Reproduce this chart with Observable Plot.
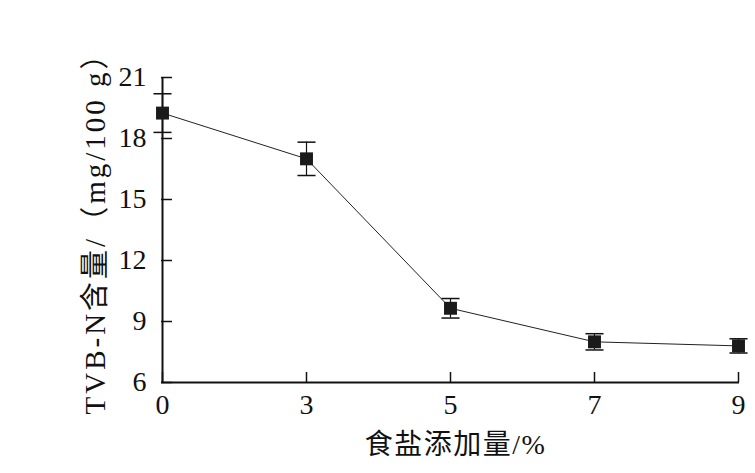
<!DOCTYPE html>
<html>
<head>
<meta charset="utf-8">
<script src="https://cdn.jsdelivr.net/npm/d3@7"></script>
<script src="https://cdn.jsdelivr.net/npm/@observablehq/plot@0.6"></script>
<style>
  html, body { margin: 0; padding: 0; background: #fff; }
  .ttl { letter-spacing: 1.5px; }
  .ttly { letter-spacing: 3px; }
  g[aria-label$="tick label"] { font-size: 28px !important; }
</style>
</head>
<body>
<div id="chart"></div>
<script>
const saltLevels = ["0", "3", "5", "7", "9"];
const tvbn = [19.25, 17.0, 9.65, 8.0, 7.8];
const sdev = [0.95, 0.82, 0.48, 0.4, 0.35];
const yTicks = [6, 9, 12, 15, 18, 21];
const xTitle = "食盐添加量/%";
const yTitle = "TVB-N含量/（mg/100 g）";

const rows = saltLevels.map((s, i) => ({salt: s, v: tvbn[i], lo: tvbn[i] - sdev[i], hi: tvbn[i] + sdev[i]}));

const font = "'Liberation Serif', 'Noto Sans CJK SC', serif";

// horizontal cap symbol for error bars
const capSymbol = {
  draw(context, size) {
    const w = Math.sqrt(size) / 2;
    context.moveTo(-w, 0);
    context.lineTo(w, 0);
  }
};

const chart = Plot.plot({
  width: 755,
  height: 473,
  marginLeft: 161,
  marginRight: 16,
  marginTop: 77,
  marginBottom: 91,
  style: {fontFamily: font, fontSize: "28px", color: "#111", background: "#fff"},
  x: {type: "point", domain: saltLevels, padding: 0},
  y: {domain: [6, 21]},
  marks: [
    // inward ticks
    Plot.axisX({ticks: saltLevels, tickSize: -10, text: null, label: null, strokeWidth: 1.5}),
    Plot.axisY({ticks: yTicks, tickSize: -11, text: null, label: null, strokeWidth: 1.5}),
    // tick labels
    Plot.axisX({ticks: saltLevels, tickSize: 0, tickPadding: 12, label: null, fontSize: 28}),
    Plot.axisY({ticks: yTicks, tickSize: 0, tickPadding: 15, label: null, fontSize: 28}),
    // axis lines
    Plot.ruleY([6], {stroke: "#111", strokeWidth: 2}),
    Plot.ruleX([saltLevels[0]], {stroke: "#111", strokeWidth: 2}),
    // connecting line
    Plot.line(rows, {x: "salt", y: "v", stroke: "#222", strokeWidth: 1}),
    // error bars
    Plot.ruleX(rows, {x: "salt", y1: "lo", y2: "hi", stroke: "#111", strokeWidth: 1.2}),
    Plot.dot(rows, {x: "salt", y: "hi", symbol: capSymbol, r: 10.2, fill: "none", stroke: "#111", strokeWidth: 1.5}),
    Plot.dot(rows, {x: "salt", y: "lo", symbol: capSymbol, r: 10.2, fill: "none", stroke: "#111", strokeWidth: 1.5}),
    // markers
    Plot.dot(rows, {x: "salt", y: "v", symbol: "square", r: 7.3, fill: "#1a1a1a", stroke: "none"}),
    // titles
    Plot.text([xTitle], {frameAnchor: "bottom", dx: 5, dy: 63, fontSize: 28, lineAnchor: "middle", textAnchor: "middle", fill: "#111", className: "ttl"}),
    Plot.text([yTitle], {frameAnchor: "left", dx: -66, dy: -4, rotate: -90, fontSize: 29, lineAnchor: "middle", textAnchor: "middle", fill: "#111", className: "ttly"})
  ]
});
document.getElementById("chart").appendChild(chart);
</script>
</body>
</html>
